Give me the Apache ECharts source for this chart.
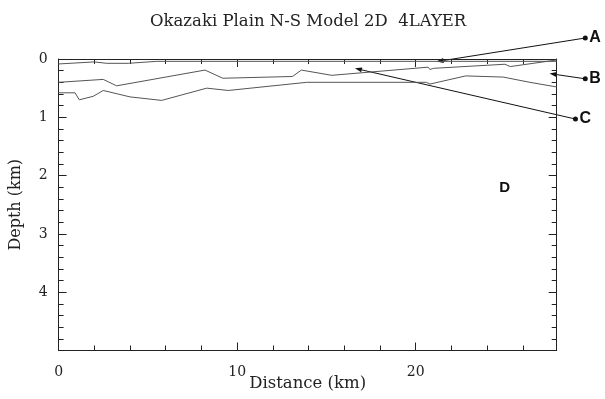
<!DOCTYPE html>
<html>
<head>
<meta charset="utf-8">
<script src="https://cdn.jsdelivr.net/npm/echarts@6/dist/echarts.min.js"></script>
<style>
html,body{margin:0;padding:0;background:#fff;}
#c{width:605px;height:399px;}
</style>
</head>
<body>
<div id="c"></div>
<script>
// Boundary lines: [distance km, depth km]
const boundaryA = [[0,0.085],[2.0,0.05],[2.7,0.074],[3.9,0.074],[4.0,0.057],[5.5,0.04],[27.9,0.04]];
const boundaryB = [[0,0.40],[2.5,0.35],[3.25,0.46],[8.2,0.19],[9.2,0.33],[13.1,0.30],[13.6,0.19],[15.3,0.28],[20.7,0.14],[20.8,0.18],[21.0,0.16],[25.0,0.09],[25.3,0.13],[27.9,0.017]];
const boundaryC = [[0,0.58],[0.92,0.58],[1.16,0.70],[1.94,0.64],[2.5,0.54],[4.0,0.65],[5.77,0.71],[8.3,0.50],[9.5,0.54],[13.9,0.40],[20.6,0.40],[20.8,0.43],[22.8,0.29],[24.9,0.31],[26.4,0.40],[27.9,0.48]];

const xMajorTicks = [0, 10, 20];
const yMajorTicks = [0, 1, 2, 3, 4];

// Annotations: label, dot position, arrow tip (data units)
const annLabels = ['A', 'B', 'C'];
const annFrom = [[29.5,-0.36],[29.5,0.34],[28.95,1.03]];
const annTo = [[21.17,0.045],[27.5,0.25],[16.6,0.16]];
const layerLabel = 'D';
const layerLabelPos = [24.98, 2.21];

const chart = echarts.init(document.getElementById('c'), null, {renderer:'canvas'});
const serif = '"DejaVu Serif", "Liberation Serif", serif';
const frameColor = '#222';
const lineColor = '#555';

function xAxisDef(pos, interval, tickLen, showLabel, showLine, name) {
  return {
    type:'value', position:pos, min:0, max:27.9, interval:interval,
    splitLine:{show:false},
    axisLine:{show:showLine, onZero:false, lineStyle:{color:frameColor, width:1}},
    axisTick:{show:true, inside:true, length:tickLen, lineStyle:{color:frameColor, width:1}},
    axisLabel:{show:showLabel, margin:14.5, color:'#222', fontFamily:serif, fontSize:14,
      formatter: v => xMajorTicks.indexOf(v) >= 0 ? String(v) : ''},
    name: name || '', nameLocation:'middle', nameGap:25, nameMoveOverlap:false,
    nameTextStyle:{fontFamily:serif, fontSize:16.5, color:'#222'}
  };
}
function yAxisDef(pos, interval, tickLen, showLabel, showLine, name) {
  return {
    type:'value', position:pos, min:0, max:5, interval:interval, inverse:true,
    splitLine:{show:false},
    axisLine:{show:showLine, onZero:false, lineStyle:{color:frameColor, width:1}},
    axisTick:{show:true, inside:true, length:tickLen, lineStyle:{color:frameColor, width:1}},
    axisLabel:{show:showLabel, margin:11, color:'#222', fontFamily:serif, fontSize:14,
      formatter: v => yMajorTicks.indexOf(v) >= 0 ? String(v) : ''},
    name: name || '', nameLocation:'middle', nameGap:35, nameMoveOverlap:false,
    nameTextStyle:{fontFamily:serif, fontSize:16, color:'#222'}
  };
}

const lineSeries = (data) => ({
  type:'line', data:data, xAxisIndex:0, yAxisIndex:0,
  showSymbol:false, symbol:'none', animation:false,
  lineStyle:{color:lineColor, width:1}
});

chart.setOption({
  animation:false,
  backgroundColor:'#fff',
  title:{text:'Okazaki Plain N-S Model 2D  4LAYER', left:145, top:8,
    textStyle:{fontFamily:serif, fontSize:16.5, fontWeight:'normal', color:'#222'}},
  grid:{left:58.6, right:48.3, top:59, bottom:48.5, outerBoundsMode:'none', containLabel:false},
  xAxis:[
    xAxisDef('bottom', 10, 8, true, true, 'Distance (km)'),
    xAxisDef('bottom', 2, 5, false, false),
    xAxisDef('top', 10, 8, false, true),
    xAxisDef('top', 2, 5, false, false)
  ],
  yAxis:[
    yAxisDef('left', 1, 8, true, true, 'Depth (km)'),
    yAxisDef('left', 0.2, 5, false, false),
    yAxisDef('right', 1, 8, false, true),
    yAxisDef('right', 0.2, 5, false, false)
  ],
  series:[lineSeries(boundaryA), lineSeries(boundaryB), lineSeries(boundaryC)]
});

// Annotation arrows positioned through the chart's own scales
const px = p => chart.convertToPixel({xAxisIndex:0, yAxisIndex:0}, p);
const graphics = [];
annLabels.forEach((lab, i) => {
  const a = px(annFrom[i]), b = px(annTo[i]);
  const dx = b[0]-a[0], dy = b[1]-a[1], L = Math.hypot(dx, dy);
  const ux = dx/L, uy = dy/L, hl = 7, hw = 2.5;
  const base = [b[0]-ux*hl, b[1]-uy*hl];
  graphics.push({type:'line', shape:{x1:a[0], y1:a[1], x2:base[0], y2:base[1]},
    style:{stroke:'#111', lineWidth:1}, silent:true});
  graphics.push({type:'polygon', shape:{points:[b, [base[0]-uy*hw, base[1]+ux*hw], [base[0]+uy*hw, base[1]-ux*hw]]},
    style:{fill:'#111'}, silent:true});
  graphics.push({type:'circle', shape:{cx:a[0], cy:a[1], r:2.5}, style:{fill:'#111'}, silent:true});
  graphics.push({type:'text', x:a[0]+4, y:a[1], style:{text:lab, fill:'#111', font:'bold 16px "Liberation Sans", Arial, sans-serif', verticalAlign:'middle', align:'left'}, silent:true});
});
const d = px(layerLabelPos);
graphics.push({type:'text', x:d[0], y:d[1], style:{text:layerLabel, fill:'#111', font:'bold 15px "Liberation Sans", Arial, sans-serif', verticalAlign:'middle', align:'center'}, silent:true});
chart.setOption({graphic:graphics});
</script>
</body>
</html>
